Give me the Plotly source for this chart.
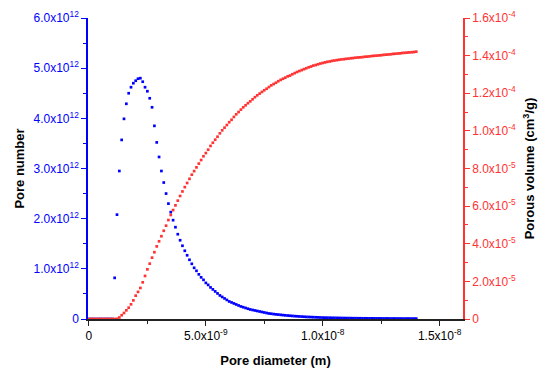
import plotly.graph_objects as go

# Pore diameter grid (nm), step 0.1 nm, converted to metres below
diameter_nm = [
    0.0, 0.1, 0.2, 0.3, 0.4, 0.5, 0.6, 0.7, 0.8, 0.9,
    1.0, 1.1, 1.2, 1.3, 1.4, 1.5, 1.6, 1.7, 1.8, 1.9,
    2.0, 2.1, 2.2, 2.3, 2.4, 2.5, 2.6, 2.7, 2.8, 2.9,
    3.0, 3.1, 3.2, 3.3, 3.4, 3.5, 3.6, 3.7, 3.8, 3.9,
    4.0, 4.1, 4.2, 4.3, 4.4, 4.5, 4.6, 4.7, 4.8, 4.9,
    5.0, 5.1, 5.2, 5.3, 5.4, 5.5, 5.6, 5.7, 5.8, 5.9,
    6.0, 6.1, 6.2, 6.3, 6.4, 6.5, 6.6, 6.7, 6.8, 6.9,
    7.0, 7.1, 7.2, 7.3, 7.4, 7.5, 7.6, 7.7, 7.8, 7.9,
    8.0, 8.1, 8.2, 8.3, 8.4, 8.5, 8.6, 8.7, 8.8, 8.9,
    9.0, 9.1, 9.2, 9.3, 9.4, 9.5, 9.6, 9.7, 9.8, 9.9,
    10.0, 10.1, 10.2, 10.3, 10.4, 10.5, 10.6, 10.7, 10.8, 10.9,
    11.0, 11.1, 11.2, 11.3, 11.4, 11.5, 11.6, 11.7, 11.8, 11.9,
    12.0, 12.1, 12.2, 12.3, 12.4, 12.5, 12.6, 12.7, 12.8, 12.9,
    13.0, 13.1, 13.2, 13.3, 13.4, 13.5, 13.6, 13.7, 13.8, 13.9,
    14.0,
]

# Pore number (units of 1e12)
pore_number_e12 = [
    0, 0, 0, 0, 0, 0, 0, 0, 0, 0,
    0, 0.82, 2.08, 2.95, 3.57, 3.99, 4.29, 4.50, 4.62, 4.70,
    4.75, 4.79, 4.80, 4.73, 4.62, 4.54, 4.40, 4.22, 3.85, 3.52,
    3.23, 2.95, 2.72, 2.50, 2.30, 2.13, 1.97, 1.83, 1.69, 1.57,
    1.46, 1.36, 1.27, 1.18, 1.10, 1.02, 0.96, 0.89, 0.83, 0.78,
    0.72, 0.68, 0.63, 0.59, 0.55, 0.51, 0.47, 0.44, 0.41, 0.38,
    0.35, 0.33, 0.31, 0.29, 0.27, 0.25, 0.235, 0.22, 0.205, 0.19,
    0.18, 0.17, 0.16, 0.15, 0.14, 0.13, 0.12, 0.11, 0.105, 0.098,
    0.092, 0.088, 0.083, 0.078, 0.073, 0.069, 0.065, 0.061, 0.057, 0.054,
    0.051, 0.048, 0.045, 0.042, 0.040, 0.038, 0.036, 0.034, 0.032, 0.030,
    0.028, 0.027, 0.026, 0.025, 0.024, 0.023, 0.022, 0.021, 0.020, 0.019,
    0.018, 0.018, 0.017, 0.016, 0.016, 0.015, 0.015, 0.014, 0.014, 0.013,
    0.013, 0.013, 0.012, 0.012, 0.012, 0.011, 0.011, 0.011, 0.011, 0.010,
    0.010, 0.010, 0.010, 0.009, 0.009, 0.009, 0.009, 0.009, 0.008, 0.008,
    0.008,
]

# Cumulative porous volume (units of 1e-6 cm3/g)
porous_volume_e6 = [
    0, 0, 0, 0, 0, 0, 0, 0, 0, 0,
    0, 0, 0.1, 0.8, 2.0, 3.2, 4.6, 6.0, 7.8, 9.9,
    12.4, 14.4, 16.5, 19.5, 22.9, 26.4, 29.4, 32.6, 35.5, 38.6,
    41.3, 44.0, 46.9, 49.6, 52.6, 55.3, 57.9, 60.4, 62.9, 65.4,
    67.8, 70.1, 72.3, 74.5, 76.7, 78.6, 80.6, 82.6, 84.5, 86.5,
    88.2, 90.0, 92.0, 93.7, 95.3, 96.9, 98.7, 100.3, 101.7, 103.1,
    104.6, 105.9, 107.4, 108.8, 110.0, 111.3, 112.5, 113.6, 114.7, 115.7,
    116.8, 117.9, 118.9, 119.8, 120.7, 121.6, 122.4, 123.3, 124.2, 124.9,
    125.6, 126.4, 127.1, 127.7, 128.3, 129.0, 129.4, 130.1, 130.7, 131.3,
    131.8, 132.3, 132.8, 133.3, 133.8, 134.2, 134.7, 135.0, 135.4, 135.8,
    136.1, 136.4, 136.7, 136.9, 137.2, 137.4, 137.6, 137.8, 138.0, 138.1,
    138.3, 138.4, 138.6, 138.7, 138.9, 139.0, 139.1, 139.2, 139.4, 139.5,
    139.6, 139.8, 139.9, 140.0, 140.1, 140.2, 140.4, 140.5, 140.6, 140.7,
    140.9, 141.0, 141.1, 141.2, 141.4, 141.5, 141.6, 141.7, 141.8, 141.9,
    142.1,
]

# Axis ticks
x_tickvals = [0, 5e-9, 1e-8, 1.5e-8]
x_ticktext = ["0", "5.0x10<sup>-9</sup>", "1.0x10<sup>-8</sup>", "1.5x10<sup>-8</sup>"]
x_minor = [2.5e-9, 7.5e-9, 1.25e-8]

y1_tickvals = [0, 1e12, 2e12, 3e12, 4e12, 5e12, 6e12]
y1_ticktext = ["0", "1.0x10<sup>12</sup>", "2.0x10<sup>12</sup>", "3.0x10<sup>12</sup>",
               "4.0x10<sup>12</sup>", "5.0x10<sup>12</sup>", "6.0x10<sup>12</sup>"]
y1_minor = [0.5e12, 1.5e12, 2.5e12, 3.5e12, 4.5e12, 5.5e12]

y2_tickvals = [0, 2e-5, 4e-5, 6e-5, 8e-5, 1e-4, 1.2e-4, 1.4e-4, 1.6e-4]
y2_ticktext = ["0", "2.0x10<sup>-5</sup>", "4.0x10<sup>-5</sup>", "6.0x10<sup>-5</sup>",
               "8.0x10<sup>-5</sup>", "1.0x10<sup>-4</sup>", "1.2x10<sup>-4</sup>",
               "1.4x10<sup>-4</sup>", "1.6x10<sup>-4</sup>"]
y2_minor = [1e-5, 3e-5, 5e-5, 7e-5, 9e-5, 1.1e-4, 1.3e-4, 1.5e-4]

x_m = [d * 1e-9 for d in diameter_nm]
pore_number = [v * 1e12 for v in pore_number_e12]
porous_volume = [v * 1e-6 for v in porous_volume_e6]

BLUE = "#0000FF"
RED = "#FF3333"
FONT = "Arial, Liberation Sans, sans-serif"

fig = go.Figure()
fig.add_trace(go.Scatter(
    x=x_m, y=pore_number, mode="markers", name="Pore number",
    marker=dict(symbol="square", size=2.7, color=BLUE, line=dict(width=0)),
    yaxis="y", cliponaxis=False,
))
fig.add_trace(go.Scatter(
    x=x_m, y=porous_volume, mode="markers", name="Porous volume",
    marker=dict(symbol="square", size=2.7, color=RED, line=dict(width=0)),
    yaxis="y2", cliponaxis=False,
))

fig.update_layout(
    width=550, height=375,
    margin=dict(l=80, r=95, t=10, b=64),
    paper_bgcolor="white", plot_bgcolor="white",
    showlegend=False,
    font=dict(family=FONT, size=12, color="black"),
    xaxis=dict(
        range=[-0.04e-9, 1.6e-8], showgrid=False, zeroline=False,
        showline=True, linecolor="#222222", linewidth=1.5,
        ticks="outside", ticklen=5, tickwidth=1, tickcolor="#222222",
        tickmode="array", tickvals=x_tickvals, ticktext=x_ticktext,
        tickfont=dict(size=12, color="black", family=FONT),
        minor=dict(tickmode="array", tickvals=x_minor, ticks="outside",
                   ticklen=3, tickcolor="#222222"),
        title=dict(text="<b>Pore diameter (m)</b>", font=dict(size=13, family=FONT),
                   standoff=14),
        automargin=False,
    ),
    yaxis=dict(
        range=[0, 6e12], showgrid=False, zeroline=False,
        showline=True, linecolor=BLUE, linewidth=1.5,
        ticks="outside", ticklen=5, tickwidth=1, tickcolor=BLUE,
        tickmode="array", tickvals=y1_tickvals, ticktext=y1_ticktext,
        tickfont=dict(size=12, color=BLUE, family=FONT),
        minor=dict(tickmode="array", tickvals=y1_minor, ticks="outside",
                   ticklen=3, tickcolor=BLUE),
        title=dict(text="<b>Pore number</b>", font=dict(size=13, family=FONT),
                   standoff=6),
        automargin=False,
    ),
    yaxis2=dict(
        range=[0, 1.6e-4], overlaying="y", side="right",
        showgrid=False, zeroline=False,
        showline=True, linecolor=RED, linewidth=1.5,
        ticks="outside", ticklen=5, tickwidth=1, tickcolor=RED,
        tickmode="array", tickvals=y2_tickvals, ticktext=y2_ticktext,
        tickfont=dict(size=12, color=RED, family=FONT),
        minor=dict(tickmode="array", tickvals=y2_minor, ticks="outside",
                   ticklen=3, tickcolor=RED),
        title=dict(text="<b>Porous volume (cm<sup>3</sup>/g)</b>",
                   font=dict(size=13, family=FONT), standoff=10),
        automargin=False,
    ),
)

fig.write_html("out.html")
